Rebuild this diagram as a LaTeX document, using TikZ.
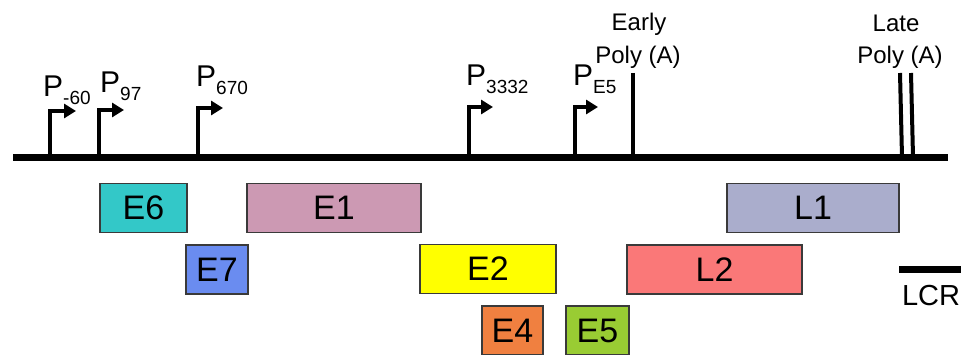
\documentclass[tikz,border=0pt]{standalone}
\usepackage{fontspec}
\setmainfont{Liberation Sans}
\usetikzlibrary{arrows.meta}

\definecolor{boxedge}{HTML}{3A3A3A}
\definecolor{cEsix}{HTML}{33C8C8}
\definecolor{cEone}{HTML}{CC99B3}
\definecolor{cEseven}{HTML}{6A8CF0}
\definecolor{cEtwo}{HTML}{FFFF00}
\definecolor{cEfour}{HTML}{F08040}
\definecolor{cEfive}{HTML}{99CC33}
\definecolor{cLone}{HTML}{AAADCC}
\definecolor{cLtwo}{HTML}{FA7878}

\newcommand{\psub}[1]{\raisebox{-8pt}{\fontsize{19}{19}\selectfont #1}}

\begin{document}
\begin{tikzpicture}[x=1pt,y=-1pt,
  genome/.style={line width=7pt},
  promoter/.style={line width=4pt, line join=miter,
    -{Triangle[length=12pt,width=14pt]}},
  polyA/.style={line width=4pt},
  plabel/.style={anchor=base west, inner sep=0pt, font=\fontsize{30}{30}\selectfont},
  pollabel/.style={anchor=base, inner sep=0pt, font=\fontsize{24}{24}\selectfont},
  genebox/.style={draw=boxedge, line width=1.3pt, inner sep=0pt,
    minimum height=49pt, font=\fontsize{34}{34}\selectfont}]

\useasboundingbox (0,0) rectangle (968,355);

% genome backbone
\coordinate (genomeL) at (13,157.5);
\coordinate (genomeR) at (948,157.5);
\draw[genome] (genomeL) -- (genomeR);

% promoters: base on the backbone, tip of the bent arrow
\coordinate (pA) at (50,157);   \coordinate (pAt) at (76,111);
\coordinate (pB) at (99,157);   \coordinate (pBt) at (124,110);
\coordinate (pC) at (198,157);  \coordinate (pCt) at (223,108);
\coordinate (pD) at (469,157);  \coordinate (pDt) at (493,107);
\coordinate (pE) at (575,157);  \coordinate (pEt) at (598,107);
\foreach \p in {A,B,C,D,E}
  \draw[promoter] (p\p) |- (p\p t);

\node[plabel] (lA) at (43,97) {P\psub{-60}};
\node[plabel] (lB) at (100,93) {P\psub{97}};
\node[plabel] (lC) at (196,87) {P\psub{670}};
\node[plabel] (lD) at (466,86) {P\psub{3332}};
\node[plabel] (lE) at (573,86) {P\psub{E5}};

% polyadenylation sites
\coordinate (epTop) at (633,73);  \coordinate (epBot) at (633,157);
\draw[polyA] (epTop) -- (epBot);
\coordinate (lpTopA) at (900,73); \coordinate (lpBotA) at (902,157);
\coordinate (lpTopB) at (911,73); \coordinate (lpBotB) at (913,157);
\draw[polyA] (lpTopA) -- (lpBotA);
\draw[polyA] (lpTopB) -- (lpBotB);

\node[pollabel] (early) at (639,31) {Early};
\node[pollabel] (earlyp) at (638,64) {Poly (A)};
\node[pollabel] (late) at (896,32) {Late};
\node[pollabel] (latep) at (900,64) {Poly (A)};

% open reading frames
\node[genebox, fill=cEsix,   minimum width=87pt]  (E6) at (143.5,208) {E6};
\node[genebox, fill=cEone,   minimum width=174pt] (E1) at (334,208)   {E1};
\node[genebox, fill=cLone,   minimum width=172pt] (L1) at (813,208)   {L1};
\node[genebox, fill=cEseven, minimum width=62pt]  (E7) at (217,269.5) {E7};
\node[genebox, fill=cEtwo,   minimum width=136pt] (E2) at (488,269)   {E2};
\node[genebox, fill=cLtwo,   minimum width=175pt] (L2) at (714.5,269.5) {L2};
\node[genebox, fill=cEfour,  minimum width=61pt]  (E4) at (512.5,330.5) {E4};
\node[genebox, fill=cEfive,  minimum width=63pt]  (E5) at (597.5,330.5) {E5};

% long control region
\coordinate (lcrL) at (899,269);
\coordinate (lcrR) at (961,269);
\draw[line width=7pt] (lcrL) -- (lcrR);
\node[anchor=base, inner sep=0pt, font=\fontsize{29}{29}\selectfont] (lcr) at (931,305) {LCR};
\end{tikzpicture}
\end{document}
